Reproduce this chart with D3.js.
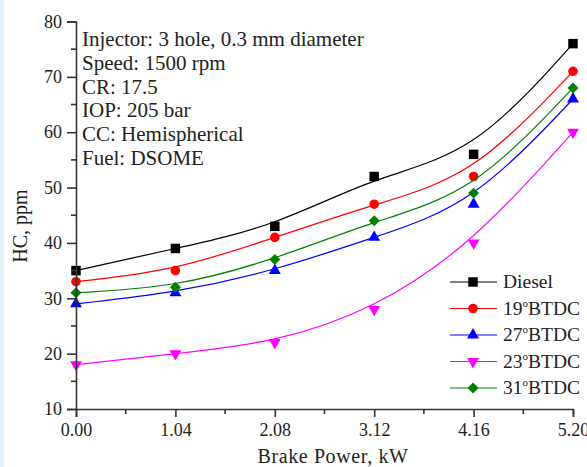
<!DOCTYPE html>
<html><head><meta charset="utf-8">
<script src="https://cdn.jsdelivr.net/npm/d3@7"></script>
<style>
html,body{margin:0;padding:0;background:#fff;}
svg{display:block;}
text{font-family:"Liberation Serif","Times New Roman",serif;fill:#222;}
</style></head>
<body>
<svg id="c" width="587" height="467"></svg>
<script>
const powers = [0.00, 1.04, 2.08, 3.12, 4.16, 5.20];
const xTickLabels = ["0.00","1.04","2.08","3.12","4.16","5.20"];
const yTicks = [10,20,30,40,50,60,70,80];
const diesel = [35, 39, 43, 52, 56, 76];
const btdc19 = [33, 35, 41, 47, 52, 71];
const btdc27 = [29, 31, 35, 41, 47, 66];
const btdc23 = [18, 20, 22, 28, 40, 60];
const btdc31 = [31, 32, 37, 44, 49, 68];
const seriesNames = ["Diesel", "19", "27", "23", "31"];
const notes = ["Injector: 3 hole, 0.3 mm diameter","Speed: 1500 rpm","CR: 17.5","IOP: 205 bar","CC: Hemispherical","Fuel: DSOME"];

const series = [
  {name:"Diesel", vals:diesel, color:"#000000", sym:"square"},
  {name:"19", vals:btdc19, color:"#ff0000", sym:"circle"},
  {name:"27", vals:btdc27, color:"#0000ff", sym:"up"},
  {name:"23", vals:btdc23, color:"#ff00ff", sym:"down"},
  {name:"31", vals:btdc31, color:"#008000", sym:"diamond"}
];

const svg = d3.select("#c");
svg.append("rect").attr("x",0).attr("y",0).attr("width",4).attr("height",467).attr("fill","#e2f1fa");

const x = d3.scaleLinear().domain([0,5.2]).range([76,573]);
const y = d3.scaleLinear().domain([10,80]).range([409,21.5]);

const line = d3.line().x(d=>x(d[0])).y(d=>y(d[1])).curve(d3.curveBasis);

function symPath(s){
  if(s==="square") return d3.symbol(d3.symbolSquare,90)();
  if(s==="circle") return d3.symbol(d3.symbolCircle,72)();
  if(s==="up"||s==="down") return d3.symbol(d3.symbolTriangle,62)();
  return d3.symbol(d3.symbolSquare,60)();
}
function symTransform(s,cx,cy){
  if(s==="down") return `translate(${cx},${cy}) rotate(180)`;
  if(s==="diamond") return `translate(${cx},${cy}) rotate(45)`;
  return `translate(${cx},${cy})`;
}

series.forEach(s=>{
  const pts = powers.map((p,i)=>[p,s.vals[i]]);
  svg.append("path").datum(pts)
    .attr("d",line).attr("fill","none").attr("stroke",s.color).attr("stroke-width",1.2);
  svg.append("g").selectAll("path").data(pts).join("path")
    .attr("d",symPath(s.sym)).attr("fill",s.color)
    .attr("transform",d=>symTransform(s.sym,x(d[0]),y(d[1])));
});

// axes
const xAxis = d3.axisBottom(x).tickValues(powers).tickFormat((d,i)=>xTickLabels[i]).tickSizeOuter(0).tickSize(8).tickPadding(6);
const gx = svg.append("g").attr("transform","translate(0,409)").call(xAxis);
const yAxis = d3.axisLeft(y).tickValues(yTicks).tickSizeOuter(0).tickSize(9).tickPadding(5);
const gy = svg.append("g").attr("transform","translate(76,0)").call(yAxis);
[gx,gy].forEach(g=>{
  g.select(".domain").attr("stroke","#333").attr("stroke-width",1.6);
  g.selectAll(".tick line").attr("stroke","#333").attr("stroke-width",1.6);
  g.selectAll(".tick text").attr("font-family","Liberation Serif, Times New Roman, serif").attr("font-size",18).attr("fill","#333");
});
// minor ticks
const xMinor = d3.range(0,5).map(i=>(powers[i]+powers[i+1])/2);
svg.append("g").selectAll("line").data(xMinor).join("line")
  .attr("x1",d=>x(d)).attr("x2",d=>x(d)).attr("y1",409).attr("y2",414)
  .attr("stroke","#333").attr("stroke-width",1.6);
const yMinor = d3.range(15,80,10);
svg.append("g").selectAll("line").data(yMinor).join("line")
  .attr("x1",71).attr("x2",76).attr("y1",d=>y(d)).attr("y2",d=>y(d))
  .attr("stroke","#333").attr("stroke-width",1.6);

// axis titles
svg.append("text").attr("x",333).attr("y",463).attr("text-anchor","middle")
  .attr("font-size",20).attr("letter-spacing",0.6).text("Brake Power, kW");
svg.append("text").attr("transform","translate(27,226) rotate(-90)").attr("text-anchor","middle")
  .attr("font-size",20).text("HC, ppm");

// notes
svg.append("g").selectAll("text").data(notes).join("text")
  .attr("x",82).attr("y",(d,i)=>46+i*23.8).attr("font-size",21).attr("fill","#111").text(d=>d);

// legend
const lg = svg.append("g");
series.forEach((s,i)=>{
  const cy = 282 + i*26.5;
  lg.append("line").attr("x1",450).attr("x2",497).attr("y1",cy).attr("y2",cy).attr("stroke",s.color).attr("stroke-width",1.2);
  lg.append("path").attr("d",symPath(s.sym)).attr("fill",s.color).attr("transform",symTransform(s.sym,473,cy));
  const t = lg.append("text").attr("x",503).attr("y",cy+6).attr("font-size",19.5).attr("fill","#111");
  if(s.name==="Diesel"){ t.text("Diesel"); }
  else {
    t.append("tspan").text(s.name);
    t.append("tspan").attr("font-size",11).attr("dy",-8).text("o");
    t.append("tspan").attr("dy",8).text("BTDC");
  }
});
</script>
</body></html>
